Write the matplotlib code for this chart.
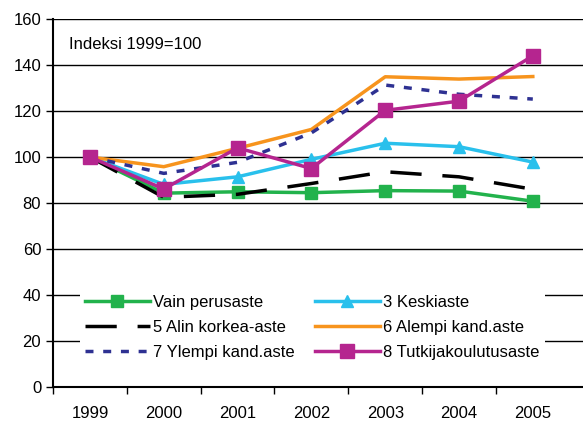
import matplotlib
matplotlib.use("Agg")
import matplotlib.pyplot as plt

plt.rcParams['font.family'] = ['Liberation Sans', 'DejaVu Sans']

years = ["1999", "2000", "2001", "2002", "2003", "2004", "2005"]

vain_perusaste = [100, 84.3, 84.9, 84.5, 85.4, 85.2, 80.8]
keskiaste = [100, 88.1, 91.4, 99.0, 106.0, 104.5, 97.8]
alin_korkea = [100, 82.5, 83.8, 88.5, 93.6, 91.4, 86.0]
alempi_kand = [100, 95.8, 103.8, 112.0, 134.9, 133.9, 135.0]
ylempi_kand = [100, 92.9, 97.7, 110.5, 131.3, 127.3, 125.2]
tutkija = [100, 86.1, 104.0, 95.0, 120.3, 124.3, 144.0]

fig = plt.figure(figsize=(5.83, 4.23), dpi=100)
ax = fig.add_axes([0.091, 0.085, 0.909, 0.87])

x = range(len(years))
lw = 2.5
h1, = ax.plot(x, vain_perusaste, color="#22b24c", lw=lw, marker="s", ms=8, label="Vain perusaste", zorder=3)
h3, = ax.plot(x, keskiaste, color="#29c0ec", lw=lw, marker="^", ms=9, label="3 Keskiaste", zorder=3)
h5, = ax.plot(x, alin_korkea, color="black", lw=lw, dashes=(9, 6), label="5 Alin korkea-aste", zorder=3)
h6, = ax.plot(x, alempi_kand, color="#f7941d", lw=lw, label="6 Alempi kand.aste", zorder=3)
h7, = ax.plot(x, ylempi_kand, color="#2e3192", lw=lw, dashes=(2.3, 2.8), label="7 Ylempi kand.aste", zorder=3)
h8, = ax.plot(x, tutkija, color="#b5258f", lw=lw, marker="s", ms=10, label="8 Tutkijakoulutusaste", zorder=4)

ax.set_ylim(0, 160)
ax.set_yticks(range(0, 161, 20))
ax.set_xlim(-0.5, 6.68)
ax.set_xticks([i - 0.5 for i in range(7)])
ax.set_xticklabels([])
ax.set_xticks(list(x), minor=True)
ax.set_xticklabels(years, minor=True)
ax.tick_params(axis="x", which="minor", length=0, pad=14, labelsize=12)
ax.tick_params(axis="x", which="major", length=5, width=1, direction="out")
ax.tick_params(axis="y", length=5, width=1, direction="out", labelsize=12)

ax.grid(axis="y", color="black", lw=1)
ax.set_axisbelow(True)
for s in ["top", "right"]:
    ax.spines[s].set_visible(False)
ax.spines["left"].set_linewidth(1.5)
ax.spines["bottom"].set_linewidth(1.5)

ax.text(0.03, 0.93, "Indeksi 1999=100", transform=ax.transAxes, fontsize=12, va="center")

handles = [h1, h5, h7, h3, h6, h8]
leg = ax.legend(handles=handles, labels=[h.get_label() for h in handles],
                ncol=2, loc="lower left", bbox_to_anchor=(0.035, 0.037), frameon=True,
                fontsize=12, handlelength=3.9, handletextpad=0.2, columnspacing=1.2,
                labelspacing=0.6, borderpad=0.3)
leg.get_frame().set_edgecolor("none")
leg.get_frame().set_facecolor("white")
leg.get_frame().set_alpha(1)

fig.savefig("out.png", dpi=100)
